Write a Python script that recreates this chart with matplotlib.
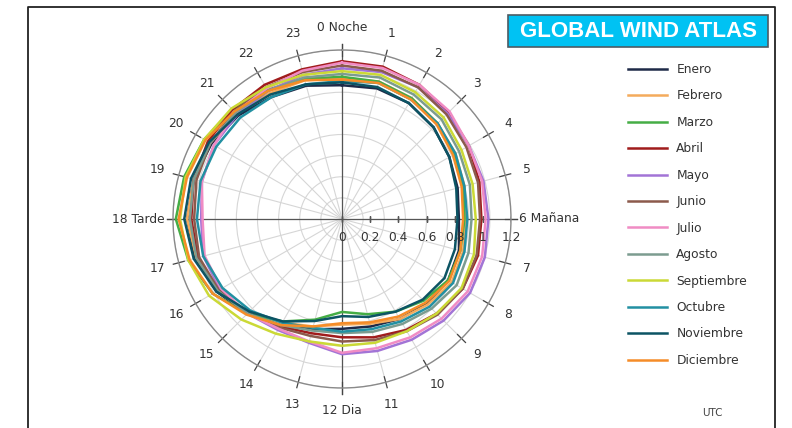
import numpy as np
import matplotlib
matplotlib.use('Agg')
import matplotlib.pyplot as plt
from matplotlib.lines import Line2D
from matplotlib.patches import Rectangle

hours = list(range(24))
hour_labels = ['0 Noche', '1', '2', '3', '4', '5', '6 Mañana', '7', '8', '9', '10', '11',
               '12 Dia', '13', '14', '15', '16', '17', '18 Tarde', '19', '20', '21', '22', '23']
r_ticks = [0, 0.2, 0.4, 0.6, 0.8, 1, 1.2]
r_tick_labels = ['0', '0.2', '0.4', '0.6', '0.8', '1', '1.2']
ring_levels = [0.15, 0.3, 0.45, 0.6, 0.75, 0.9, 1.05, 1.2]

months = ['Enero', 'Febrero', 'Marzo', 'Abril', 'Mayo', 'Junio', 'Julio',
          'Agosto', 'Septiembre', 'Octubre', 'Noviembre', 'Diciembre']
colors = ['#1e2a48', '#f4ab5c', '#45ad45', '#a01c1c', '#a274d6', '#8c5a4c', '#f08cc4',
          '#7c9c90', '#cbd936', '#2290a2', '#0c5464', '#f58c28']

enero = [.95, .96, .95, .92, .88, .85, .83, .86, .87, .85, .82, .79,
         .78, .81, .87, .95, 1.03, 1.08, 1.10, 1.09, 1.07, 1.04, 1.00, .98]
febrero = [1.00, 1.01, .99, .96, .93, .90, .88, .89, .90, .86, .82, .77,
           .75, .79, .85, .94, 1.02, 1.07, 1.10, 1.09, 1.08, 1.06, 1.03, 1.02]
marzo = [1.01, 1.01, .99, .96, .92, .89, .87, .87, .87, .82, .76, .70,
         .66, .74, .84, .95, 1.06, 1.13, 1.18, 1.16, 1.13, 1.10, 1.06, 1.03]
abril = [1.12, 1.12, 1.10, 1.07, 1.04, 1.01, .99, 1.00, .99, .95, .91, .87,
         .84, .84, .88, .95, 1.02, 1.06, 1.07, 1.09, 1.10, 1.10, 1.10, 1.10]
mayo = [1.07, 1.08, 1.08, 1.06, 1.04, 1.04, 1.04, 1.05, 1.05, 1.02, .99, .97,
        .96, .91, .91, .95, 1.00, 1.02, 1.00, 1.03, 1.05, 1.05, 1.05, 1.06]
junio = [1.09, 1.09, 1.08, 1.05, 1.02, 1.00, .98, .99, .99, .96, .92, .89,
         .87, .86, .89, .95, 1.01, 1.05, 1.05, 1.07, 1.08, 1.08, 1.08, 1.08]
julio = [1.11, 1.11, 1.10, 1.08, 1.04, 1.03, 1.02, 1.03, 1.03, 1.00, .97, .95,
         .95, .90, .90, .95, .99, 1.01, .99, 1.03, 1.05, 1.07, 1.07, 1.09]
agosto = [1.03, 1.04, 1.02, 1.00, .96, .94, .92, .93, .94, .90, .86, .83,
          .81, .82, .87, .95, 1.02, 1.07, 1.08, 1.09, 1.08, 1.07, 1.05, 1.04]
septiembre = [1.05, 1.06, 1.04, 1.02, .98, .96, .95, .97, .98, .95, .92, .91,
              .90, .90, .94, 1.01, 1.09, 1.13, 1.15, 1.15, 1.13, 1.11, 1.08, 1.06]
octubre = [.98, 1.00, .98, .96, .93, .90, .89, .90, .91, .88, .84, .81,
           .80, .80, .85, .92, .98, 1.02, 1.03, 1.04, 1.03, 1.02, 1.00, .99]
noviembre = [.97, .97, .95, .92, .88, .84, .82, .83, .84, .81, .76, .72,
             .69, .75, .84, .93, 1.03, 1.09, 1.12, 1.11, 1.09, 1.05, 1.02, .99]
diciembre = [.99, 1.00, .98, .95, .91, .88, .86, .87, .88, .84, .80, .76,
             .74, .79, .87, .96, 1.06, 1.12, 1.16, 1.14, 1.12, 1.08, 1.05, 1.02]

series = [enero, febrero, marzo, abril, mayo, junio, julio,
          agosto, septiembre, octubre, noviembre, diciembre]

W, H = 792, 428
fig = plt.figure(figsize=(W / 100, H / 100), dpi=100)

cx, cy, rad = 342, 219, 169
ax = fig.add_axes([(cx - rad) / W, (H - cy - rad) / H, 2 * rad / W, 2 * rad / H],
                  projection='polar')
ax.set_theta_zero_location('N')
ax.set_theta_direction(-1)

theta = np.array(hours + [hours[0]]) * 2 * np.pi / 24
for name, vals, c in zip(months, series, colors):
    ax.plot(theta, vals + [vals[0]], color=c, lw=1.8, label=name, zorder=3)

ax.set_ylim(0, 1.2)
ax.set_yticks(ring_levels)
ax.set_yticklabels([])
ax.set_xticks(np.array(hours) * 2 * np.pi / 24)
ax.set_xticklabels([])
ax.grid(color='#d6d6d6', lw=0.8)
ax.spines['polar'].set_color('#8a8a8a')
ax.spines['polar'].set_linewidth(1.0)

fs = 8.8

# main axes through the centre
for t in [0, np.pi / 2, np.pi, 3 * np.pi / 2]:
    ax.plot([t, t], [0, 1.24], color='#555555', lw=0.9, clip_on=False, zorder=2)

# hour ticks and labels
for h, lab in zip(hours, hour_labels):
    t = h * 2 * np.pi / 24
    ax.plot([t, t], [1.16, 1.24], color='#444444', lw=0.9, clip_on=False, zorder=2)
    if h == 6:
        ax.text(t, 1.26, lab, ha='left', va='center', fontsize=fs, color='#333333')
    elif h == 18:
        ax.text(t, 1.26, lab, ha='right', va='center', fontsize=fs, color='#333333')
    else:
        ax.text(t, 1.36, lab, ha='center', va='center', fontsize=fs, color='#333333')

# radial labels along the 6 o'clock axis
for r, lab in zip(r_ticks, r_tick_labels):
    ax.plot([np.pi / 2, np.pi / 2], [r, r], marker='|', ms=4, color='#555555', zorder=2)
    ax.annotate(lab, xy=(np.pi / 2, r), xytext=(0, -13), textcoords='offset points',
                ha='center', va='center', fontsize=fs, color='#333333')

# frame
fig.add_artist(Line2D([28 / W, 28 / W, 775 / W, 775 / W], [0, 1 - 7 / H, 1 - 7 / H, 0],
                      transform=fig.transFigure, color='#222222', lw=1.3))

# logo
fig.add_artist(Rectangle((508 / W, 1 - 47 / H), 260 / W, 32 / H, transform=fig.transFigure,
                         fc='#00c2f3', ec='#4d5b63', lw=1.2))
fig.text(639 / W, 1 - 31.5 / H, 'GLOBAL WIND ATLAS', ha='center', va='center',
         color='white', fontweight='bold', family='Liberation Sans', fontsize=16)

leg = fig.legend(loc='upper left', bbox_to_anchor=(628 / W, 1 - 63 / H), frameon=False,
                 fontsize=fs, labelspacing=1.1, handlelength=3.2, handletextpad=0.75,
                 borderpad=0, borderaxespad=0)
for txt in leg.get_texts():
    txt.set_color('#333333')

fig.text(712 / W, 1 - 413 / H, 'UTC', ha='center', va='center', fontsize=7.5, color='#444444')

fig.savefig('out.png', dpi=100)
